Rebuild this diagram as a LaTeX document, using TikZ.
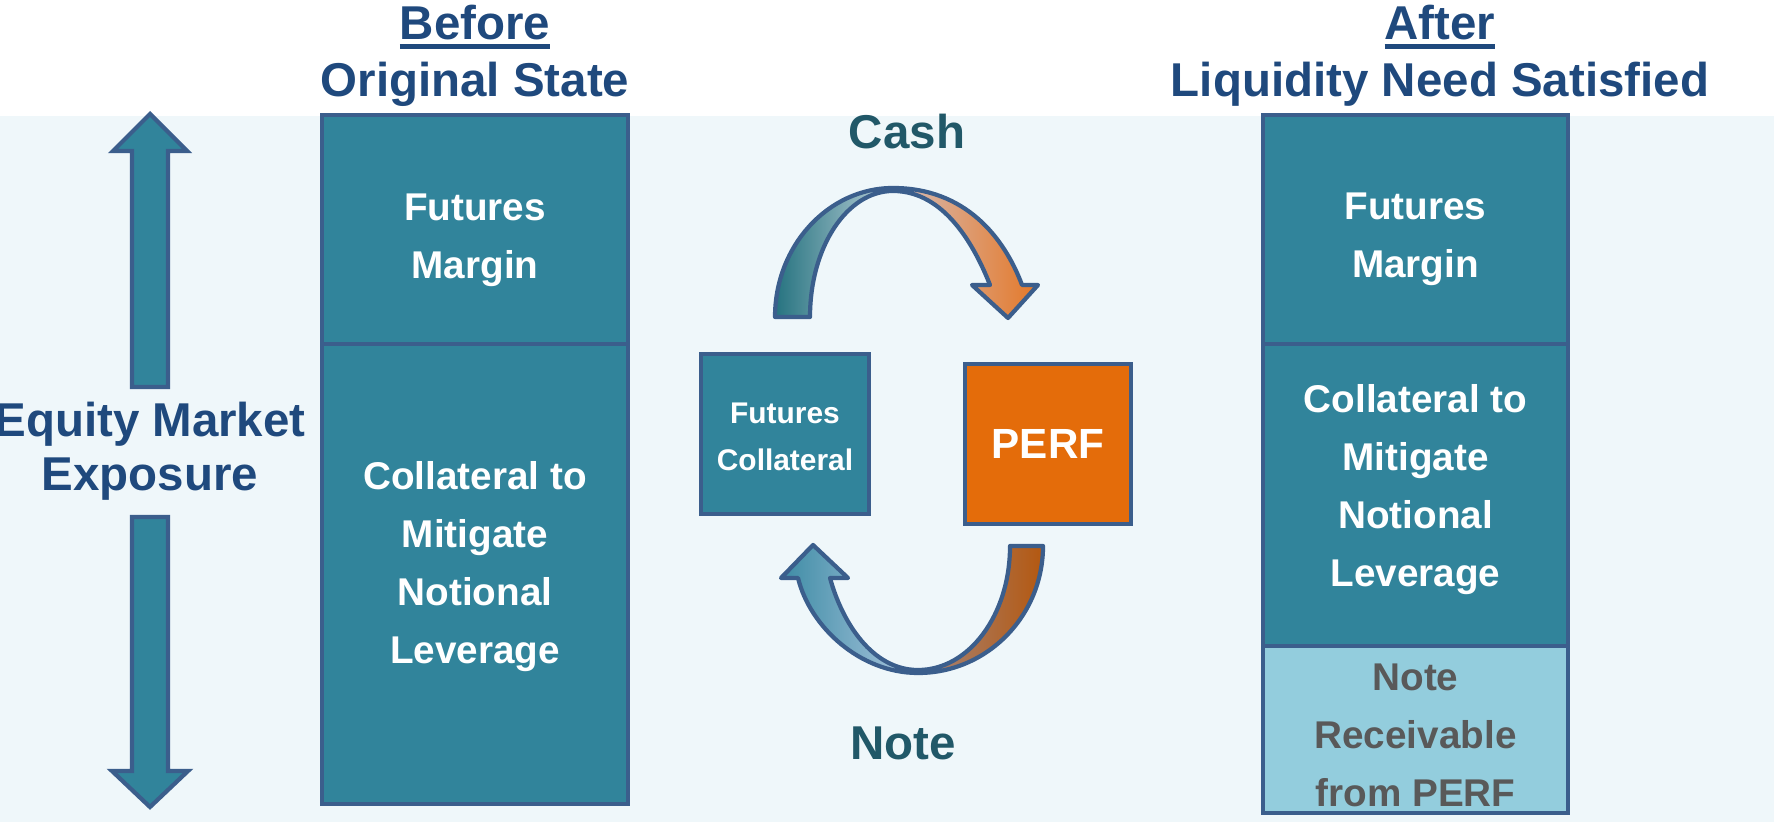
\documentclass[tikz,border=0pt]{standalone}
\usepackage{fontspec}
\setmainfont{Liberation Sans}
\usetikzlibrary{positioning}

\definecolor{headblue}{RGB}{31,73,125}
\definecolor{edgeblue}{RGB}{59,94,140}
\definecolor{boxteal}{RGB}{49,132,155}
\definecolor{noteblue}{RGB}{147,205,221}
\definecolor{perforange}{RGB}{228,108,10}
\definecolor{paneblue}{RGB}{239,247,250}
\definecolor{cashteal}{RGB}{33,88,104}
\definecolor{notegrey}{RGB}{89,89,89}
\definecolor{tealdark}{RGB}{38,115,128}
\definecolor{archlight}{RGB}{190,210,218}
\definecolor{archpink}{RGB}{215,190,185}
\definecolor{archorange}{RGB}{228,120,40}
\definecolor{blueleft}{RGB}{62,140,165}
\definecolor{bluelight}{RGB}{175,200,225}
\definecolor{mauve}{RGB}{165,135,125}
\definecolor{brown}{RGB}{180,88,16}

\newcommand{\thickul}[1]{\vtop{\hbox{#1}\kern1.2pt\hrule height 1.4pt}}

\tikzset{
  section/.style={draw=edgeblue, line width=1.2pt, fill=boxteal,
    inner sep=0pt, outer sep=0pt},
  boxtext/.style={text=white, font=\bfseries\fontsize{11}{16.5}\selectfont, align=center},
  heading/.style={text=headblue, font=\bfseries\fontsize{13.5}{16.2}\selectfont, align=center},
  blockarrow/.style={draw=edgeblue, line width=1.2pt, fill=boxteal},
  curvearrow/.style={draw=edgeblue, line width=1.2pt, line join=round}
}

\begin{document}
\begin{tikzpicture}[x=0.01cm, y=0.01cm]
\useasboundingbox (0,0) rectangle (1774,822);
\fill[paneblue] (0,0) rectangle (1774,706);

% Headings
\node[heading] (before) at (475,766) {\thickul{Before}\\Original State};
\node[heading] (after) at (1440,766) {\thickul{After}\\Liquidity Need Satisfied};

% Before column
\node[section, minimum width=3.06cm, minimum height=2.29cm] (bmargin) at (475,592.5) {};
\node[section, minimum width=3.06cm, minimum height=4.6cm, below=0pt of bmargin] (bcoll) {};
\node[boxtext] (bmargintext) at ([yshift=-0.11cm]bmargin.center) {Futures\\Margin};
\node[boxtext] (bcolltext) at ([yshift=0.08cm]bcoll.center) {Collateral to\\Mitigate\\Notional\\Leverage};

% After column
\node[section, minimum width=3.05cm, minimum height=2.29cm] (amargin) at (1415.5,592.5) {};
\node[section, minimum width=3.05cm, minimum height=3.02cm, below=0pt of amargin] (acoll) {};
\node[section, fill=noteblue, minimum width=3.05cm, minimum height=1.67cm, below=0pt of acoll] (anote) {};
\node[boxtext] (amargintext) at ([yshift=-0.1cm]amargin.center) {Futures\\Margin};
\node[boxtext] (acolltext) at ([yshift=0.06cm]acoll.center) {Collateral to\\Mitigate\\Notional\\Leverage};
\node[boxtext, text=notegrey] (anotetext) at ([yshift=-0.06cm]anote.center) {Note\\Receivable\\from PERF};

% Exposure
\node[text=headblue, font=\bfseries\fontsize{13.5}{15.4}\selectfont, align=center] (equity) at (150,371) {Equity Market\\Exposure};
\draw[blockarrow] (132,435) -- (132,671) -- (113,671) -- (150,708) -- (187,671) -- (168,671) -- (168,435) -- cycle;
\draw[blockarrow] (132,305) -- (132,51) -- (112,51) -- (150,15) -- (188,51) -- (168,51) -- (168,305) -- cycle;

% Middle
\node[section, minimum width=1.68cm, minimum height=1.6cm] (fcoll) at (785,388) {};
\node[boxtext, font=\bfseries\fontsize{8.5}{13.2}\selectfont] (fcolltext) at ([yshift=-0.03cm]fcoll.center) {Futures\\Collateral};
\node[section, fill=perforange, minimum width=1.66cm, minimum height=1.6cm, text=white, font=\bfseries\fontsize{12}{14}\selectfont] (perf) at (1048,378) {PERF};
\node[text=cashteal, font=\bfseries\fontsize{13.5}{16}\selectfont] (cash) at (907,690) {Cash};
\node[text=cashteal, font=\bfseries\fontsize{13.5}{16}\selectfont] (note) at (903,79) {Note};

% Cash arrow
\shade[left color=tealdark, right color=archlight] (775,505) .. controls (775,576) and (828,634) .. (893,634) -- (893,631) .. controls (847,631) and (810,575) .. (810,505) -- cycle;
\shade[left color=archpink, right color=archorange] (893,634) .. controls (965,634) and (1004,585) .. (1022,537) -- (1038,537) -- (1008,504) -- (972,537) -- (990,537) .. controls (975,575) and (945,631) .. (893,631) -- cycle;
\draw[curvearrow] (775,505) .. controls (775,576) and (828,634) .. (893,634) .. controls (965,634) and (1004,585) .. (1022,537) -- (1038,537) -- (1008,504) -- (972,537) -- (990,537) .. controls (975,575) and (945,631) .. (893,631) .. controls (847,631) and (810,575) .. (810,505) -- cycle;

% Note arrow
\shade[left color=blueleft, right color=bluelight] (918,149) .. controls (860,149) and (810,195) .. (798,244) -- (781,244) -- (813,277) -- (848,244) -- (830,244) .. controls (842,200) and (872,152) .. (918,152) -- cycle;
\shade[left color=mauve, right color=brown] (918,149) .. controls (987,149) and (1043,206) .. (1043,276) -- (1010,276) .. controls (1010,207) and (969,152) .. (918,152) -- cycle;
\draw[curvearrow] (798,244) .. controls (810,195) and (860,149) .. (918,149) .. controls (987,149) and (1043,206) .. (1043,276) -- (1010,276) .. controls (1010,207) and (969,152) .. (918,152) .. controls (872,152) and (842,200) .. (830,244) -- (848,244) -- (813,277) -- (781,244) -- cycle;
\end{tikzpicture}
\end{document}
